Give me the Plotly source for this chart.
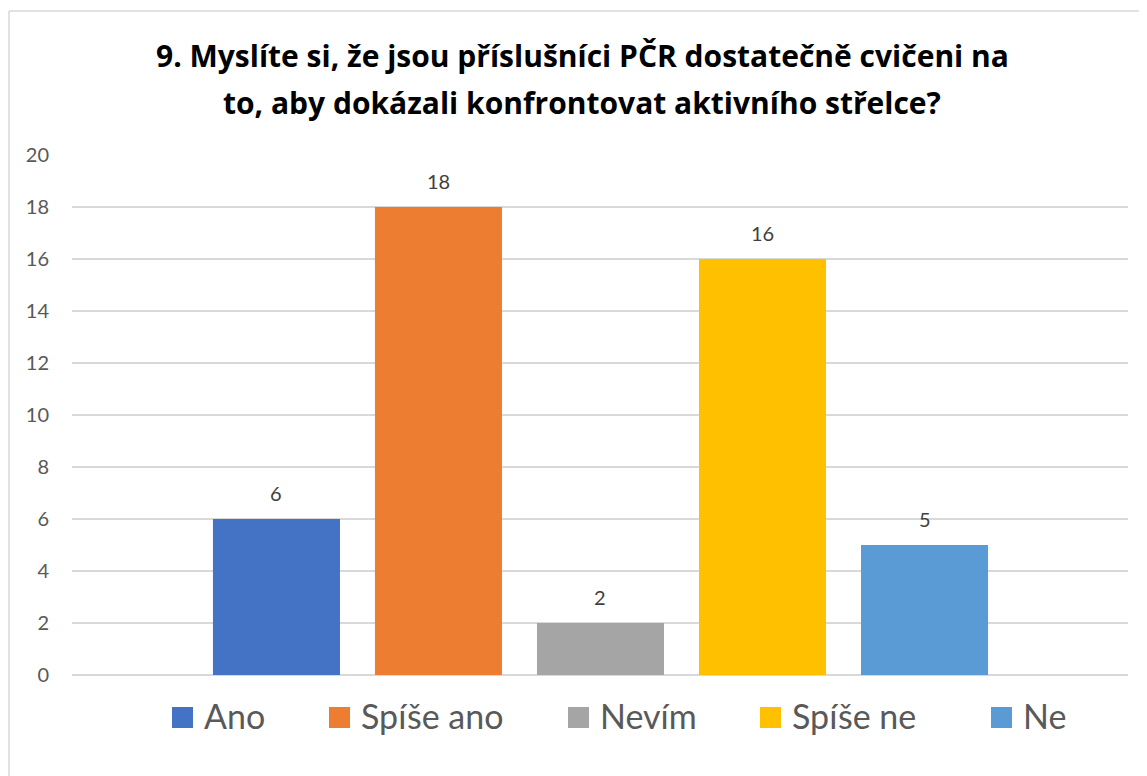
import plotly.graph_objects as go

# ---- data ----
series_names = ["Ano", "Spíše ano", "Nevím", "Spíše ne", "Ne"]
series_values = [6, 18, 2, 16, 5]
series_colors = ["#4472C4", "#ED7D31", "#A5A5A5", "#FFC000", "#5B9BD5"]
y_tick_values = [0, 2, 4, 6, 8, 10, 12, 14, 16, 18, 20]
title_lines = [
    "9. Myslíte si, že jsou příslušníci PČR dostatečně cvičeni na",
    "to, aby dokázali konfrontovat aktivního střelce?",
]

# ---- layout geometry (pixels, in screenshot coordinates) ----
OFF = 8                      # page body margin in the browser
W, H = 1147 - OFF, 776 - OFF
PL, PR, PT, PB = 72, 1128, 155, 675   # plot area in screenshot px
ML = PL - OFF
MT = PT - OFF
MR = W - (PR - OFF)
MB = H - (PB - OFF)
PW = PR - PL
PH = PB - PT
FONT = "Lato, 'Open Sans', sans-serif"
TITLE_FONT = "'Open Sans', Lato, sans-serif"


def px_x(px):
    return (px - PL) / PW


def px_y(py):
    return (PB - py) / PH


fig = go.Figure()
for i, (name, val, col) in enumerate(zip(series_names, series_values, series_colors)):
    fig.add_trace(go.Bar(
        x=[i], y=[val], name=name, marker=dict(color=col, line=dict(width=0)),
        width=0.784, showlegend=False, hoverinfo="name+y",
    ))
    fig.add_annotation(
        x=i, y=val, xref="x", yref="y", text=str(val), showarrow=False,
        yanchor="bottom", yshift=12,
        font=dict(family=FONT, size=20, color="#404040"),
    )

# title (two lines, Excel-like spacing)
for line, cy in zip(title_lines, [55, 103]):
    fig.add_annotation(
        x=px_x(582), y=px_y(cy), xref="paper", yref="paper", text=f"<b>{line}</b>",
        showarrow=False, xanchor="center", yanchor="middle",
        font=dict(family=TITLE_FONT, size=30, color="#000000"),
    )

# manual legend
legend_square_left = [172, 329, 568, 760, 991]
for name, col, sx in zip(series_names, series_colors, legend_square_left):
    fig.add_shape(
        type="rect", xref="paper", yref="paper",
        x0=px_x(sx), x1=px_x(sx + 21), y0=px_y(728), y1=px_y(707),
        fillcolor=col, line=dict(width=0),
    )
    fig.add_annotation(
        x=px_x(sx + 30), y=px_y(715), xref="paper", yref="paper", text=name,
        showarrow=False, xanchor="left", yanchor="middle",
        font=dict(family=FONT, size=34, color="#595959"),
    )

# chart border (Excel chart area outline, cropped on right/bottom)
fig.add_shape(type="line", xref="paper", yref="paper",
              x0=px_x(9), x1=px_x(9), y0=px_y(11), y1=px_y(800),
              line=dict(color="#D9D9D9", width=1.5))
fig.add_shape(type="line", xref="paper", yref="paper",
              x0=px_x(9), x1=px_x(1200), y0=px_y(11), y1=px_y(11),
              line=dict(color="#D9D9D9", width=1.5))

fig.update_layout(
    width=W, height=H,
    margin=dict(l=ML, r=MR, t=MT, b=MB, pad=0),
    paper_bgcolor="white", plot_bgcolor="white",
    barmode="overlay",
    showlegend=False,
    font=dict(family=FONT),
    xaxis=dict(range=[-1.262, 5.256], showticklabels=False, showgrid=False,
               zeroline=False, showline=False, ticks=""),
    yaxis=dict(range=[0, 20], tickvals=y_tick_values, showgrid=True,
               gridcolor="#D9D9D9", gridwidth=1.5, zeroline=True,
               zerolinecolor="#D9D9D9", zerolinewidth=1.5, showline=False,
               ticks="", ticklabelstandoff=22,
               tickfont=dict(family=FONT, size=20, color="#595959")),
)

fig.write_html("out.html")
